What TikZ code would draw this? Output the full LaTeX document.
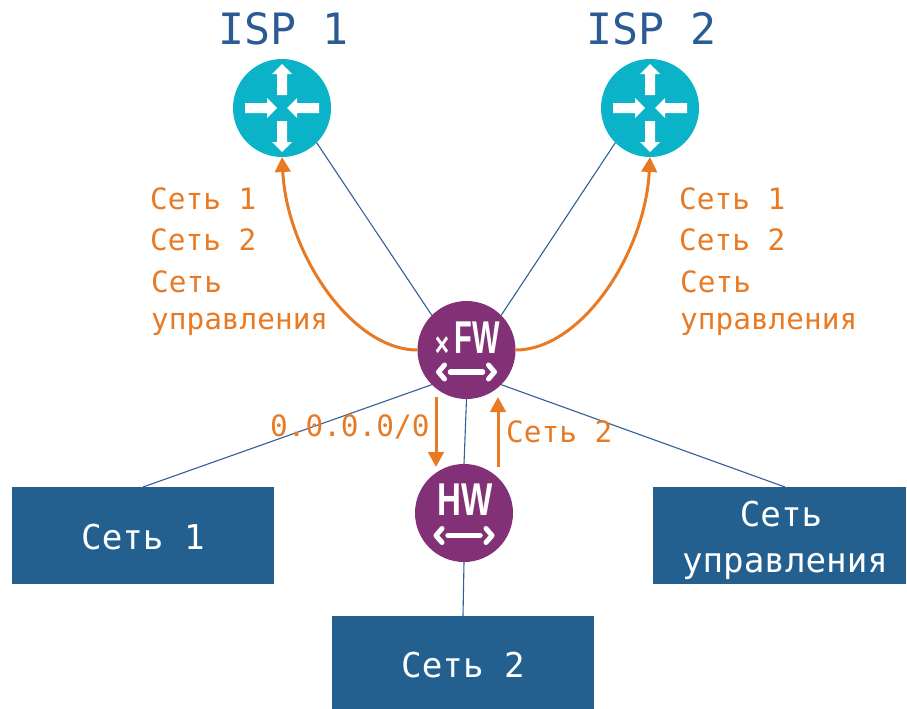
\documentclass[tikz,border=0pt]{standalone}
\usepackage{fontspec}
\setmainfont{DejaVu Sans Mono}
\newfontfamily\iconfont[FakeStretch=0.72]{Liberation Sans}
\usetikzlibrary{arrows.meta}
\definecolor{boxblue}{HTML}{23608F}
\definecolor{linkblue}{HTML}{2F5F97}
\definecolor{titleblue}{HTML}{2A5B92}
\definecolor{fwpurple}{HTML}{833177}
\definecolor{routerteal}{HTML}{0BB3C9}
\definecolor{routeorange}{HTML}{E97A24}
\tikzset{
  x=1pt,y=-1pt,
  routerdisc/.style={circle,fill=routerteal,minimum size=98pt,inner sep=0pt,outer sep=0pt},
  fwdisc/.style={circle,fill=fwpurple,minimum size=98pt,inner sep=0pt,outer sep=0pt},
  netbox/.style={fill=boxblue,inner sep=0pt,outer sep=0pt},
  boxlabel/.style={text=white,inner sep=0pt,anchor=base,font=\fontsize{34.2}{47}\selectfont},
  link/.style={draw=linkblue,line width=1.1pt},
  route/.style={draw=routeorange,line width=3pt,-{Triangle[length=15pt,width=15.5pt]}},
  routelabel/.style={text=routeorange,anchor=base west,inner sep=0pt,font=\fontsize{29.4}{30}\selectfont},
  title/.style={text=titleblue,anchor=base west,inner sep=0pt,font=\fontsize{43.2}{44}\selectfont},
  icontext/.style={text=white,inner sep=0pt,anchor=base},
  routerarrows/.pic={
    \fill[white] (-5,-13)--(-5,-34)--(-10,-34)--(0,-44)--(10,-34)--(5,-34)--(5,-13)--cycle;
    \fill[white] (-5,13)--(-5,34)--(-10,34)--(0,44)--(10,34)--(5,34)--(5,13)--cycle;
    \fill[white] (-37,-5)--(-15,-5)--(-15,-10)--(-5,0)--(-15,10)--(-15,5)--(-37,5)--cycle;
    \fill[white] (37,-5)--(15,-5)--(15,-10)--(5,0)--(15,10)--(15,5)--(37,5)--cycle;
  },
  biarrow/.pic={
    \draw[white,line width=5.5pt,line cap=round] (-16,0)--(16,0);
    \draw[white,line width=5pt,line cap=round,line join=round] (-22,-7)--(-28,0)--(-22,7);
    \draw[white,line width=5pt,line cap=round,line join=round] (22,-7)--(28,0)--(22,7);
  },
}
\begin{document}
\begin{tikzpicture}
\useasboundingbox (0,0) rectangle (907,709);
% devices
\node[routerdisc] (r1) at (282,108) {};
\node[routerdisc] (r2) at (650,108) {};
\node[fwdisc] (fw) at (466.5,350) {};
\node[fwdisc] (hw) at (464,513) {};
\pic at (r1.center) {routerarrows};
\pic at (r2.center) {routerarrows};
% networks
\node[netbox,minimum width=262pt,minimum height=97pt] (n1) at (143,535.5) {};
\node[netbox,minimum width=262pt,minimum height=93pt] (n2) at (463,662.5) {};
\node[netbox,minimum width=253pt,minimum height=97pt] (n3) at (779.5,535.5) {};
\node[boxlabel] (n1t) at (143,549) {Сеть 1};
\node[boxlabel] (n2t) at (463,677) {Сеть 2};
\node[boxlabel] (n3a) at (781,526) {Сеть};
\node[boxlabel] (n3b) at (785,572) {управления};
% links
\coordinate (n3top) at (785,487);
\draw[link] (r1.-45) -- (fw.135);
\draw[link] (r2.-135) -- (fw.45);
\draw[link] (fw.225) -- (n1.north);
\draw[link] (fw.-45) -- (n3top);
\draw[link] (fw.south) -- (hw.north);
\draw[link] (hw.south) -- (n2.north);
% routes
\draw[route] (fw.west) .. controls (352,350) and (287,254) .. (r1.south);
\draw[route] (fw.east) .. controls (581,350) and (645,254) .. (r2.south);
\coordinate (dn1) at (436,397);
\coordinate (dn2) at (436,467);
\coordinate (up1) at (498,467);
\coordinate (up2) at (498,397);
\draw[route] (dn1) -- (dn2);
\draw[route] (up1) -- (up2);
% icon text
\node[icontext,font=\iconfont\bfseries\fontsize{46}{46}\selectfont,xscale=0.88] (fwt) at (477,353) {FW};
\node[icontext,font=\iconfont\bfseries\fontsize{34}{34}\selectfont] (fwx) at (442,356) {×};
\node[icontext,font=\iconfont\bfseries\fontsize{46}{46}\selectfont] (hwt) at (465,515) {HW};
\pic at (466.5,372) {biarrow};
\pic at (464,535.5) {biarrow};
% titles
\node[title] (t1) at (218,45) {ISP 1};
\node[title] (t2) at (586,45) {ISP 2};
% route labels
\node[routelabel] (l1) at (150,209) {Сеть 1};
\node[routelabel] (l2) at (150,250) {Сеть 2};
\node[routelabel] (l3) at (151,292) {Сеть};
\node[routelabel] (l4) at (151,329) {управления};
\node[routelabel] (r1l) at (679,209) {Сеть 1};
\node[routelabel] (r2l) at (679,250) {Сеть 2};
\node[routelabel] (r3l) at (680,292) {Сеть};
\node[routelabel] (r4l) at (680,329) {управления};
\node[routelabel] (d) at (270,436) {0.0.0.0/0};
\node[routelabel] (u) at (506,442) {Сеть 2};
\end{tikzpicture}
\end{document}
